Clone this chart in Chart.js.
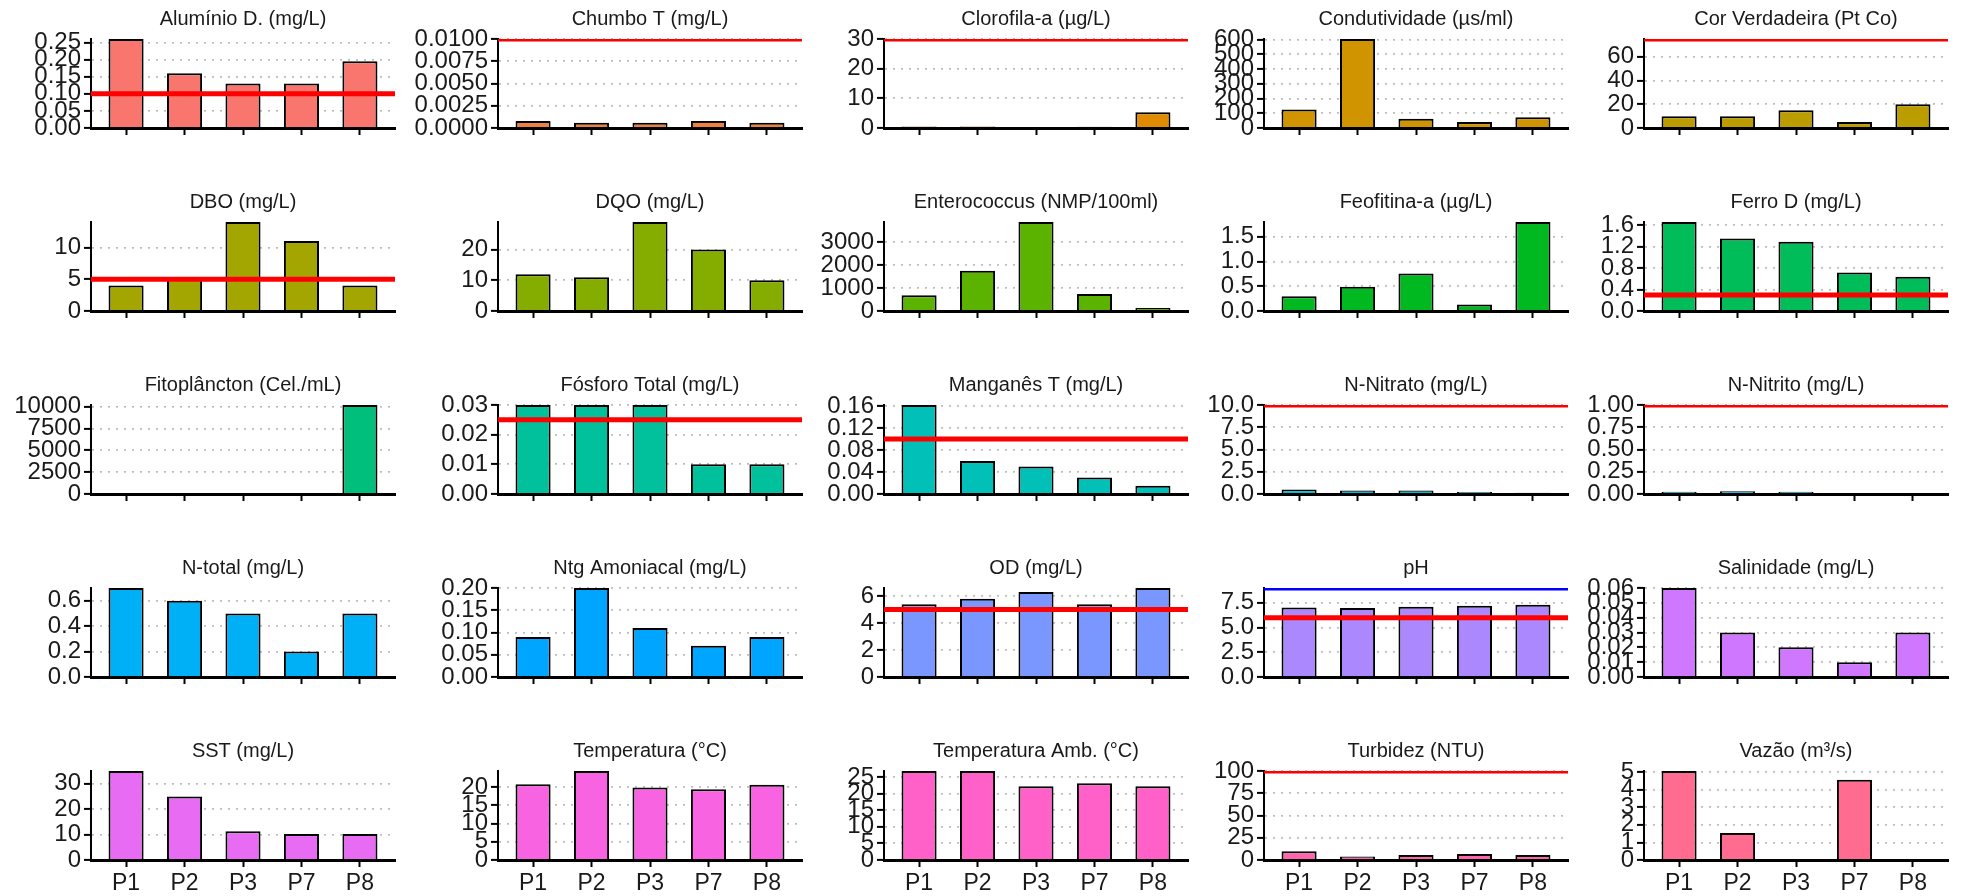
<!DOCTYPE html>
<html>
<head>
<meta charset="utf-8">
<script src="https://cdn.jsdelivr.net/npm/chart.js@4.4.1/dist/chart.umd.min.js"></script>
<style>
  html, body { margin: 0; padding: 0; background: #fff; }
  #page { position: relative; width: 1962px; height: 896px; overflow: hidden; background: #fff; }
  #page canvas { position: absolute; }
</style>
</head>
<body>
<div id="page"></div>
<script>
// sampling points
const categories = ['P1', 'P2', 'P3', 'P7', 'P8'];

const titles = [
  'Alumínio D. (mg/L)', 'Chumbo T (mg/L)', 'Clorofila-a (µg/L)', 'Condutividade (µs/ml)', 'Cor Verdadeira (Pt Co)',
  'DBO (mg/L)', 'DQO (mg/L)', 'Enterococcus (NMP/100ml)', 'Feofitina-a (µg/L)', 'Ferro D (mg/L)',
  'Fitoplâncton (Cel./mL)', 'Fósforo Total (mg/L)', 'Manganês T (mg/L)', 'N-Nitrato (mg/L)', 'N-Nitrito (mg/L)',
  'N-total (mg/L)', 'Ntg Amoniacal (mg/L)', 'OD (mg/L)', 'pH', 'Salinidade (mg/L)',
  'SST (mg/L)', 'Temperatura (°C)', 'Temperatura Amb. (°C)', 'Turbidez (NTU)', 'Vazão (m³/s)'
];

// values per parameter (P1, P2, P3, P7, P8)
const aluminio = [0.26, 0.16, 0.13, 0.13, 0.195];
const chumbo = [0.0008, 0.0006, 0.0006, 0.0008, 0.0006];
const clorofila = [0.5, 0.5, null, 0.4, 5.3];
const condutividade = [125, 603, 63, 40, 72];
const corVerdadeira = [10, 10, 15, 5, 20];
const dbo = [4, 5, 14, 11, 4];
const dqo = [12, 11, 29, 20, 10];
const enterococcus = [690, 1750, 3870, 740, 130];
const feofitina = [0.3, 0.49, 0.76, 0.13, 1.8];
const ferro = [1.66, 1.35, 1.29, 0.72, 0.64];
const fitoplancton = [null, null, null, null, 10200];
const fosforo = [0.03, 0.03, 0.03, 0.01, 0.01];
const manganes = [0.162, 0.06, 0.05, 0.03, 0.015];
const nitrato = [0.5, 0.4, 0.4, 0.22, 0.15];
const nitrito = [0.025, 0.03, 0.025, null, 0.01];
const nTotal = [0.7, 0.6, 0.5, 0.2, 0.5];
const amoniacal = [0.09, 0.2, 0.11, 0.07, 0.09];
const od = [5.4, 5.8, 6.3, 5.4, 6.6];
const ph = [7.03, 6.97, 7.1, 7.2, 7.3];
const salinidade = [0.06, 0.03, 0.02, 0.01, 0.03];
const sst = [35, 25, 11.3, 10.2, 10.2];
const temperatura = [20.8, 24.4, 19.9, 19.4, 20.6];
const temperaturaAmb = [26.8, 26.8, 22.2, 23.1, 22.2];
const turbidez = [9.8, 3.8, 5.6, 6.8, 5.6];
const vazao = [5.06, 1.54, null, 4.56, null];

const seriesValues = [
  aluminio, chumbo, clorofila, condutividade, corVerdadeira,
  dbo, dqo, enterococcus, feofitina, ferro,
  fitoplancton, fosforo, manganes, nitrato, nitrito,
  nTotal, amoniacal, od, ph, salinidade,
  sst, temperatura, temperaturaAmb, turbidez, vazao
];

// y tick labels per panel
const yTicks = [
  ['0.00', '0.05', '0.10', '0.15', '0.20', '0.25'],
  ['0.0000', '0.0025', '0.0050', '0.0075', '0.0100'],
  ['0', '10', '20', '30'],
  ['0', '100', '200', '300', '400', '500', '600'],
  ['0', '20', '40', '60'],
  ['0', '5', '10'],
  ['0', '10', '20'],
  ['0', '1000', '2000', '3000'],
  ['0.0', '0.5', '1.0', '1.5'],
  ['0.0', '0.4', '0.8', '1.2', '1.6'],
  ['0', '2500', '5000', '7500', '10000'],
  ['0.00', '0.01', '0.02', '0.03'],
  ['0.00', '0.04', '0.08', '0.12', '0.16'],
  ['0.0', '2.5', '5.0', '7.5', '10.0'],
  ['0.00', '0.25', '0.50', '0.75', '1.00'],
  ['0.0', '0.2', '0.4', '0.6'],
  ['0.00', '0.05', '0.10', '0.15', '0.20'],
  ['0', '2', '4', '6'],
  ['0.0', '2.5', '5.0', '7.5'],
  ['0.00', '0.01', '0.02', '0.03', '0.04', '0.05', '0.06'],
  ['0', '10', '20', '30'],
  ['0', '5', '10', '15', '20'],
  ['0', '5', '10', '15', '20', '25'],
  ['0', '25', '50', '75', '100'],
  ['0', '1', '2', '3', '4', '5']
];

// reference limits (red), pH upper limit (blue)
const redLimits = [0.1, 0.01, 30, null, 75, 5, null, null, null, 0.3, null, 0.025, 0.1, 10, 1, null, null, 5, 6, null, null, null, null, 100, null];
const blueLimits = [null, null, null, null, null, null, null, null, null, null, null, null, null, null, null, null, null, null, 9, null, null, null, null, null, null];

// ggplot-like hue palette (hcl, c=100, l=65)
function hcl(h, c, l) {
  const hr = h * Math.PI / 180;
  const U = c * Math.cos(hr), V = c * Math.sin(hr);
  const Xn = 95.047, Yn = 100, Zn = 108.883;
  const Y = l > 8 ? Yn * Math.pow((l + 16) / 116, 3) : Yn * l / 903.3;
  const t = Xn + 15 * Yn + 3 * Zn;
  const up = U / (13 * l) + 4 * Xn / t, vp = V / (13 * l) + 9 * Yn / t;
  const X = 9 * Y * up / (4 * vp);
  const Z = -X / 3 - 5 * Y + 3 * Y / vp;
  const x = X / 100, y = Y / 100, z = Z / 100;
  const lin = [3.240479 * x - 1.537150 * y - 0.498535 * z,
               -0.969256 * x + 1.875992 * y + 0.041556 * z,
               0.055648 * x - 0.204043 * y + 1.057311 * z];
  const gam = v => v <= 0.0031308 ? 12.92 * v : 1.055 * Math.pow(v, 1 / 2.4) - 0.055;
  return 'rgb(' + lin.map(v => Math.round(255 * Math.min(1, Math.max(0, gam(v))))).join(',') + ')';
}

const limitLines = {
  id: 'limitLines',
  afterDatasetsDraw(chart, args, opts) {
    const { ctx, chartArea: a } = chart;
    const yScale = chart.scales.y;
    ctx.save();
    ctx.beginPath();
    ctx.rect(a.left, a.top, a.right - a.left, a.bottom - a.top);
    ctx.clip();
    (opts.lines || []).forEach(l => {
      const py = yScale.getPixelForValue(l.value);
      ctx.beginPath();
      ctx.moveTo(a.left, py);
      ctx.lineTo(a.right, py);
      ctx.lineWidth = 5;
      ctx.strokeStyle = l.color;
      ctx.stroke();
    });
    ctx.restore();
  }
};

// layout
const colAxisX = [91, 498, 884, 1264, 1644];
const rowTop = [39, 222, 405, 588, 771];
const PLOT_W = 304, PLOT_H = 89;
const Y_W = 95, X_H = 40, TITLE_H = 31, RIGHT_PAD = 6;
const FONT = '"Liberation Sans", Arial, sans-serif';

const page = document.getElementById('page');

titles.forEach((title, i) => {
  const row = Math.floor(i / 5), col = i % 5;
  const values = seriesValues[i];
  const tickVals = yTicks[i].map(Number);
  const lines = [];
  if (redLimits[i] != null) lines.push({ value: redLimits[i], color: '#FF0000' });
  if (blueLimits[i] != null) lines.push({ value: blueLimits[i], color: '#0000FF' });
  const yMax = Math.max(...values.filter(v => v != null), ...lines.map(l => l.value));

  const canvas = document.createElement('canvas');
  const w = Y_W + PLOT_W + RIGHT_PAD, h = TITLE_H + PLOT_H + X_H;
  canvas.width = w;
  canvas.height = h;
  canvas.style.left = (colAxisX[col] - Y_W) + 'px';
  canvas.style.top = (rowTop[row] - TITLE_H) + 'px';
  canvas.style.width = w + 'px';
  canvas.style.height = h + 'px';
  page.appendChild(canvas);

  new Chart(canvas, {
    type: 'bar',
    data: {
      datasets: [{
        data: values.map((v, k) => ({ x: k + 1, y: v })),
        backgroundColor: hcl(15 + i * 14.4, 100, 65),
        borderColor: '#000',
        borderWidth: 2,
        borderSkipped: 'start',
        barPercentage: 0.6,
        categoryPercentage: 1.0
      }]
    },
    options: {
      responsive: false,
      maintainAspectRatio: false,
      animation: false,
      events: [],
      layout: { padding: { right: RIGHT_PAD } },
      plugins: {
        legend: { display: false },
        tooltip: { enabled: false },
        title: {
          display: true,
          text: title,
          fullSize: false,
          color: '#1a1a1a',
          font: { family: FONT, size: 20, weight: 'normal', lineHeight: '23px' },
          padding: { top: 0, bottom: 8 }
        },
        limitLines: { lines: lines }
      },
      scales: {
        x: {
          type: 'linear',
          offset: false,
          min: 0.4,
          max: 5.6,
          afterBuildTicks: s => { s.ticks = categories.map((c, k) => ({ value: k + 1 })); },
          afterFit: s => { s.height = X_H; },
          grid: { offset: false, drawOnChartArea: false, drawTicks: true, tickLength: 7, tickColor: '#000', tickWidth: 2 },
          border: { display: true, color: '#000', width: 3 },
          ticks: {
            display: row === 4,
            autoSkip: false,
            maxRotation: 0,
            padding: 3,
            color: '#1a1a1a',
            font: { family: FONT, size: 23 },
            callback: v => categories[Math.round(v) - 1]
          }
        },
        y: {
          type: 'linear',
          min: 0,
          max: yMax,
          afterBuildTicks: s => { s.ticks = tickVals.map(v => ({ value: v })); },
          afterFit: s => { s.width = Y_W; },
          grid: { color: '#BEBEBE', lineWidth: 1.8, tickLength: 7, tickColor: '#000', tickWidth: 2 },
          border: { display: true, color: '#000', width: 2, dash: [2, 6] },
          ticks: {
            autoSkip: false,
            padding: 3,
            color: '#1a1a1a',
            font: { family: FONT, size: 24 },
            callback: (v, k) => yTicks[i][k]
          }
        }
      }
    },
    plugins: [limitLines]
  });
});
</script>
</body>
</html>
